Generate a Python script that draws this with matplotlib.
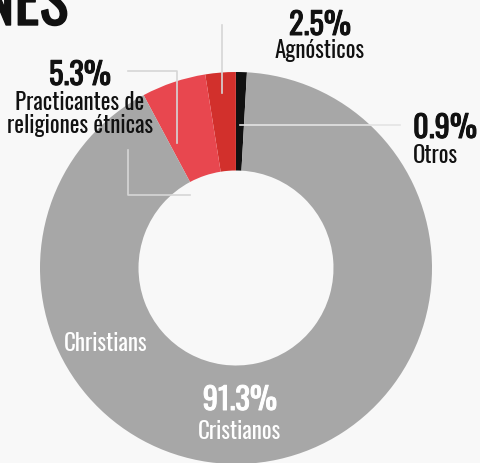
import matplotlib.pyplot as plt
import matplotlib.patheffects as pe

# Datos del gráfico
categorias = ['Otros', 'Agnósticos', 'Practicantes de\nreligiones étnicas', 'Cristianos']
porcentajes = [0.9, 2.5, 5.3, 91.3]
colores = ['#111111', '#d2302c', '#e8474f', '#a7a7a7']

plt.rcParams['font.family'] = ['Oswald', 'DejaVu Sans']

W, H = 481, 463
fig = plt.figure(figsize=(W / 100, H / 100), dpi=100)
fig.patch.set_facecolor('#f8f8f8')
ax = fig.add_axes([0, 0, 1, 1])
ax.set_facecolor('#f8f8f8')

# Dona
cx, cy, r = 236, H - 268, 196
ax.pie(porcentajes, colors=colores, startangle=86.8, counterclock=True,
       center=(cx, cy), radius=r, frame=True,
       wedgeprops=dict(width=r - 97.5, linewidth=0))
ax.set_xlim(0, W)
ax.set_ylim(0, H)
ax.set_aspect('auto')
ax.axis('off')

def y(v):
    return H - v

def grueso(color, w):
    return [pe.withStroke(linewidth=w, foreground=color)]

# Líneas guía
gris = '#d6d6d6'
ax.plot([128, 177, 177], [y(71), y(71), y(143)], color=gris, lw=1.2)
ax.plot([128, 128, 190], [y(150), y(195), y(195)], color=gris, lw=1.2)
ax.plot([222, 222], [y(25), y(93)], color=gris, lw=1.2)
ax.plot([240, 400], [y(125), y(125)], color='#e4e4e4', lw=1.2)

# Título (cortado)
ax.text(68, y(25), 'RELIGIONES', ha='right', va='baseline', fontsize=44,
        color='#111111', path_effects=grueso('#111111', 1.0))

# Etiquetas
def etiqueta(x, yp, yn, pct, nombre, color='#111111', ha='center'):
    ax.text(x, y(yp), pct, ha=ha, va='baseline', fontsize=22,
            color=color, path_effects=grueso(color, 0.7))
    ax.text(x, y(yn), nombre, ha=ha, va='baseline', fontsize=16.5,
            color=color, linespacing=1.0)

etiqueta(80, 85, 133, f'{porcentajes[2]}%', 'Practicantes de\nreligiones étnicas')
etiqueta(320, 35, 58, f'{porcentajes[1]}%', categorias[1])
etiqueta(413, 138, 163, f'{porcentajes[0]}%', categorias[0], ha='left')
etiqueta(240, 410, 439, f'{porcentajes[3]}%', categorias[3], color='white')

ax.text(106, y(351), 'Christians', ha='center', va='baseline', fontsize=16.5,
        color='white')

fig.savefig('out.png', dpi=100, facecolor=fig.get_facecolor())
